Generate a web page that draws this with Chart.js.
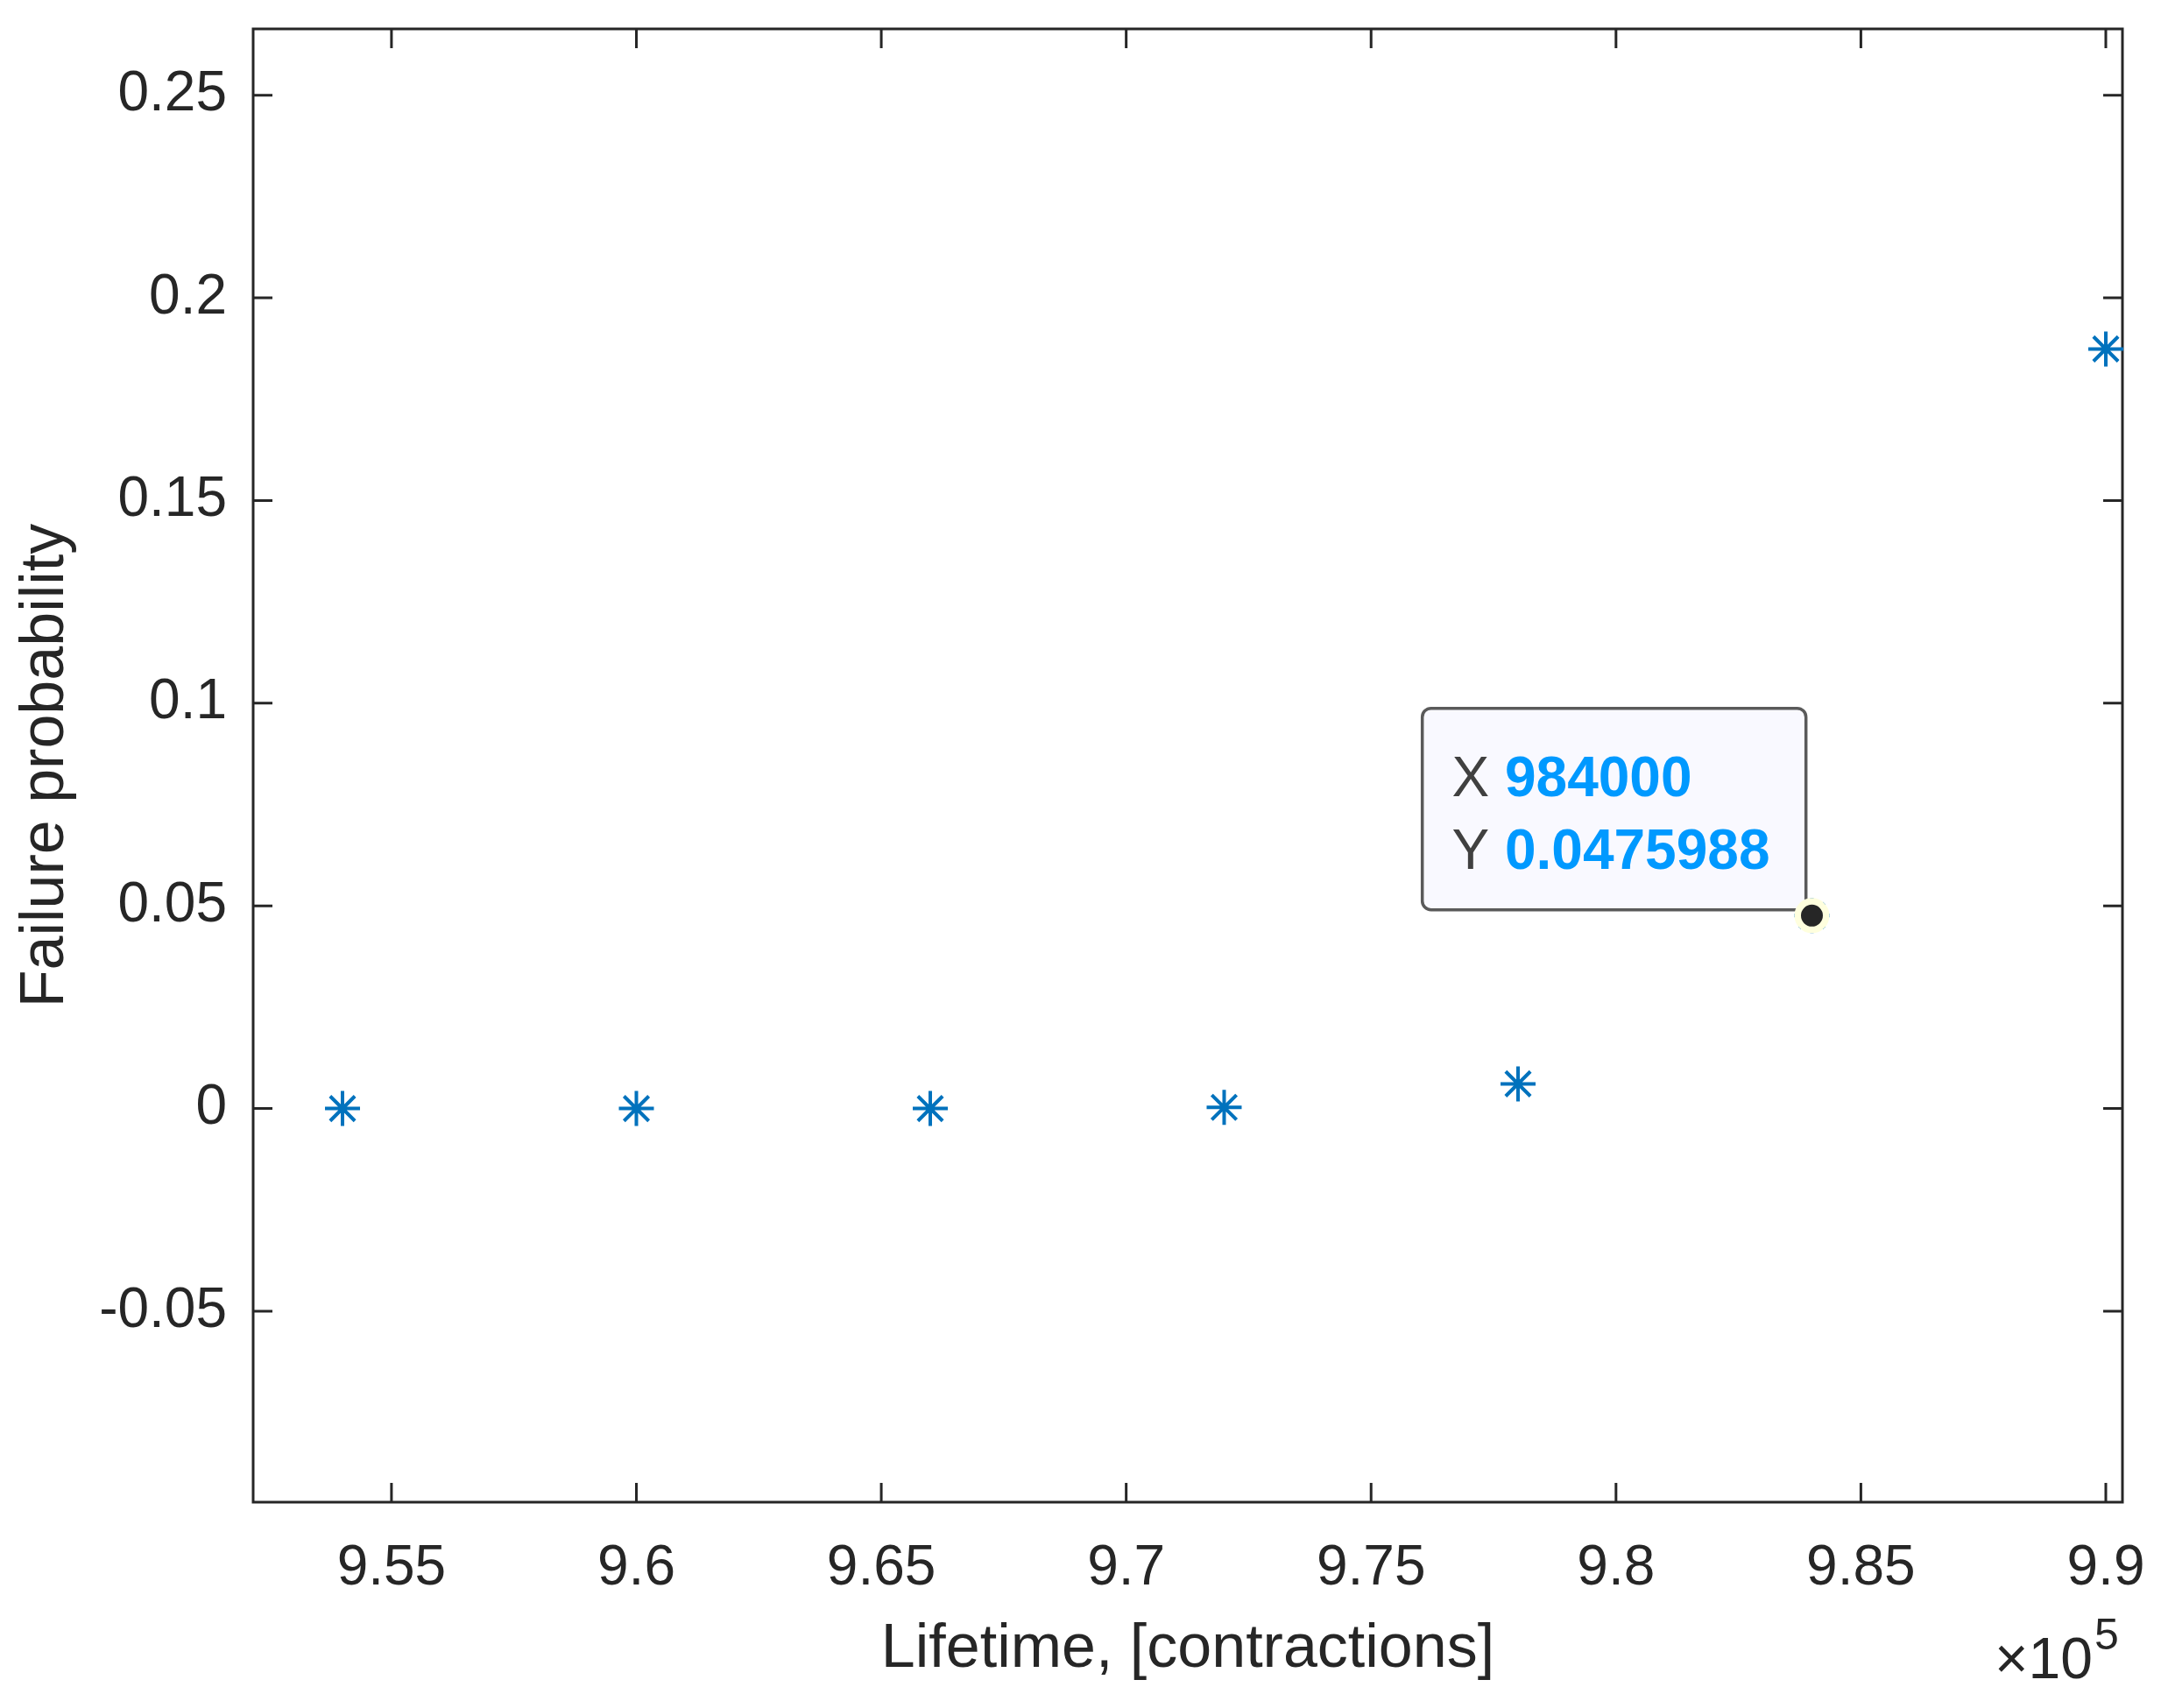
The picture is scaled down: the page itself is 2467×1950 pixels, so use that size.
<!DOCTYPE html>
<html><head><meta charset="utf-8">
<script src="https://cdn.jsdelivr.net/npm/chart.js@4.4.0/dist/chart.umd.min.js"></script>
<style>html,body{margin:0;padding:0;background:#fff;} canvas{display:block;}</style>
</head><body>
<canvas id="c" width="2467" height="1950" style="width:2467px;height:1950px"></canvas>
<script>
// ---- data ----
const xValues = [954000, 960000, 966000, 972000, 978000, 984000, 990000];
const yValues = [0, 0, 0, 0.0003, 0.0061, 0.0475988, 0.1874];
const datatipX = [984000];
const datatipY = [0.0475988];
const datatipLabels = ['984000', '0.0475988'];
const xTickValues = [955000, 960000, 965000, 970000, 975000, 980000, 985000, 990000];
const xTickLabels = ['9.55', '9.6', '9.65', '9.7', '9.75', '9.8', '9.85', '9.9'];
const yTickValues = [-0.05, 0, 0.05, 0.1, 0.15, 0.2, 0.25];
const yTickLabels = ['-0.05', '0', '0.05', '0.1', '0.15', '0.2', '0.25'];
const xRange = [952176, 990340];
const yRange = [-0.09711, 0.26636];
const xTitle = 'Lifetime, [contractions]';
const yTitle = 'Failure probability';
const xExponent = '5';

const FONT = '"Liberation Sans", Arial, Helvetica, sans-serif';
const AXIS = '#262626';

const framePlugin = {
  id: 'frame',
  beforeDatasetsDraw(chart) {
    const {ctx, chartArea: a, scales: {x, y}} = chart;
    ctx.save();
    ctx.strokeStyle = AXIS;
    ctx.lineWidth = 3;
    ctx.strokeRect(a.left, a.top, a.right - a.left, a.bottom - a.top);
    const tl = 22;
    ctx.beginPath();
    x.ticks.forEach(t => {
      const px = x.getPixelForValue(t.value);
      ctx.moveTo(px, a.bottom); ctx.lineTo(px, a.bottom - tl);
      ctx.moveTo(px, a.top); ctx.lineTo(px, a.top + tl);
    });
    y.ticks.forEach(t => {
      const py = y.getPixelForValue(t.value);
      ctx.moveTo(a.left, py); ctx.lineTo(a.left + tl, py);
      ctx.moveTo(a.right, py); ctx.lineTo(a.right - tl, py);
    });
    ctx.stroke();
    // exponent label
    ctx.fillStyle = AXIS;
    ctx.textBaseline = 'alphabetic';
    ctx.font = '66px ' + FONT;
    ctx.textAlign = 'right';
    ctx.fillText('\u00d710', a.right - 34, a.bottom + 201);
    ctx.font = '50px ' + FONT;
    ctx.textAlign = 'left';
    ctx.fillText(xExponent, a.right - 32, a.bottom + 168);
    ctx.restore();
  },
  beforeDatasetDraw(chart, args) {
    if (args.index !== 0) return;
    const pt = chart.getDatasetMeta(0).data[0];
    const px = pt.x, py = pt.y;
    const ctx = chart.ctx;
    ctx.save();
    const l = px - 444.8, t = py - 236.7, r = px - 6.8, b = py - 6.7, rad = 10;
    ctx.beginPath();
    ctx.moveTo(l + rad, t);
    ctx.lineTo(r - rad, t); ctx.arcTo(r, t, r, t + rad, rad);
    ctx.lineTo(r, b - rad); ctx.arcTo(r, b, r - rad, b, rad);
    ctx.lineTo(l + rad, b); ctx.arcTo(l, b, l, b - rad, rad);
    ctx.lineTo(l, t + rad); ctx.arcTo(l, t, l + rad, t, rad);
    ctx.closePath();
    ctx.fillStyle = '#F9F9FF';
    ctx.fill();
    ctx.lineWidth = 3.5;
    ctx.strokeStyle = '#5a5a5a';
    ctx.stroke();
    const rows = [['X ', datatipLabels[0], py - 136.7], ['Y ', datatipLabels[1], py - 53.7]];
    ctx.textAlign = 'left';
    ctx.textBaseline = 'alphabetic';
    rows.forEach(([k, v, by]) => {
      ctx.font = '64px ' + FONT;
      ctx.fillStyle = '#404040';
      const tx = px - 411;
      ctx.fillText(k, tx, by);
      const w = ctx.measureText(k).width;
      ctx.font = 'bold 64px ' + FONT;
      ctx.fillStyle = '#0099FF';
      ctx.fillText(v, tx + w, by);
    });
    ctx.restore();
  }
};

const mainData = xValues.map((v, i) => ({x: v, y: yValues[i]}));
const tipData = datatipX.map((v, i) => ({x: v, y: datatipY[i]}));

new Chart(document.getElementById('c'), {
  type: 'scatter',
  data: {
    datasets: [
      {
        label: 'datatip',
        data: tipData,
        pointStyle: 'circle',
        pointRadius: 16.25,
        backgroundColor: '#262626',
        borderColor: 'rgb(255,255,222)',
        borderWidth: 7.5,
        clip: false
      },
      {
        label: 'Failure probability',
        data: mainData,
        pointStyle: 'star',
        pointRadius: 20,
        borderColor: '#0072BD',
        backgroundColor: '#0072BD',
        borderWidth: 4,
        clip: false
      }
    ]
  },
  options: {
    responsive: false,
    devicePixelRatio: 1,
    animation: false,
    events: [],
    layout: {padding: {top: 33, right: 44, bottom: 0, left: 0}},
    plugins: {legend: {display: false}, tooltip: {enabled: false}},
    scales: {
      x: {
        type: 'linear',
        min: xRange[0], max: xRange[1],
        afterBuildTicks(s) { s.ticks = xTickValues.map(v => ({value: v})); },
        afterFit(s) { s.height = 235; s.paddingLeft = 0; s.paddingRight = 0; s.paddingTop = 0; s.paddingBottom = 0; },
        grid: {display: false, drawTicks: false},
        border: {display: false},
        ticks: {
          autoSkip: false, maxRotation: 0, padding: 38,
          color: AXIS, font: {family: FONT, size: 64},
          callback: (v, i) => xTickLabels[i]
        },
        title: {
          display: true, text: xTitle, color: AXIS,
          font: {family: FONT, size: 70, lineHeight: 1},
          padding: {top: 0, bottom: 31}
        }
      },
      y: {
        type: 'linear',
        min: yRange[0], max: yRange[1],
        afterBuildTicks(s) { s.ticks = yTickValues.map(v => ({value: v})); },
        afterFit(s) { s.width = 289; s.paddingLeft = 0; s.paddingRight = 0; s.paddingTop = 0; s.paddingBottom = 0; },
        grid: {display: false, drawTicks: false},
        border: {display: false},
        ticks: {
          autoSkip: false, padding: 30,
          color: AXIS, font: {family: FONT, size: 64},
          callback: (v, i) => yTickLabels[i]
        },
        title: {
          display: true, text: yTitle, color: AXIS,
          font: {family: FONT, size: 70, lineHeight: 1},
          padding: {top: 18, bottom: 0}
        }
      }
    }
  },
  plugins: [framePlugin]
});
</script>
</body></html>
